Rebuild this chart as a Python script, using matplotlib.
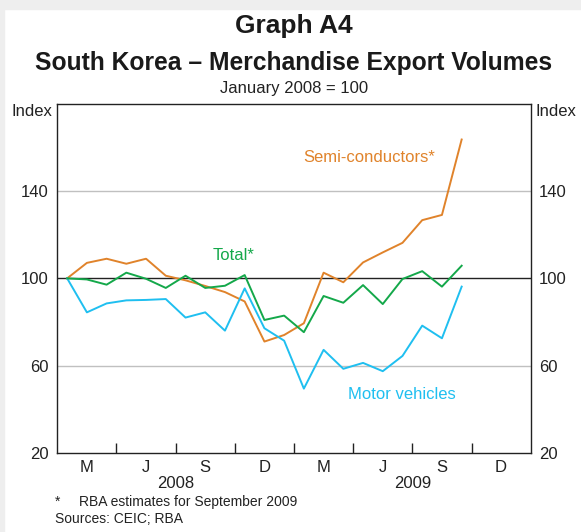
import matplotlib
matplotlib.use("Agg")
import matplotlib.pyplot as plt
from matplotlib.patches import Rectangle

plt.rcParams['font.family'] = ['Liberation Sans', 'DejaVu Sans']

months = list(range(21))  # Jan 2008 .. Sep 2009
semi = [100, 107.1, 109.0, 106.7, 109.0, 101.2, 99.1, 96.5, 93.7, 89.4, 71.0, 74.0,
        79.4, 102.6, 98.2, 107.3, 111.9, 116.3, 126.7, 129.1, 163.7]
total = [100, 99.5, 97.1, 102.6, 99.8, 95.6, 101.2, 95.6, 96.6, 101.5, 80.9, 82.9,
         75.3, 91.9, 88.8, 96.9, 88.2, 99.7, 103.3, 96.2, 105.8]
motor = [100, 84.4, 88.5, 89.9, 90.1, 90.5, 82.0, 84.4, 76.0, 95.4, 77.1, 71.4,
         49.4, 67.2, 58.5, 61.2, 57.4, 64.4, 78.3, 72.5, 96.2]
quarter_labels = ['M', 'J', 'S', 'D', 'M', 'J', 'S', 'D']
year_labels = ['2008', '2009']
yticks = [20, 60, 100, 140]

c_semi = '#E0832B'
c_total = '#14A84A'
c_motor = '#1FBFF0'

fig = plt.figure(figsize=(5.81, 5.32), dpi=100)
# light grey border strips at top and left
fig.patches.append(Rectangle((0, 1 - 9/532), 1, 9/532, transform=fig.transFigure,
                             color='#EEEEEE', zorder=-10))
fig.patches.append(Rectangle((0, 0), 4/581, 1, transform=fig.transFigure,
                             color='#EEEEEE', zorder=-10))

ax = fig.add_axes([57.3/581, 1 - 452.7/532, (530.7 - 57.3)/581, (452.7 - 104)/532])
ax.set_xlim(-0.5, 23.5)
ax.set_ylim(20, 180)

for y in [60, 140]:
    ax.axhline(y, color='#C0C0C0', lw=1.0, zorder=1)
ax.axhline(100, color='#222222', lw=1.0, zorder=1)

ax.plot(months, semi, color=c_semi, lw=1.4, zorder=3)
ax.plot(months, total, color=c_total, lw=1.4, zorder=4)
ax.plot(months, motor, color=c_motor, lw=1.4, zorder=3)

for s in ax.spines.values():
    s.set_color('#222222')
    s.set_linewidth(1.0)

ax.set_yticks(yticks)
ax.set_yticklabels([str(v) for v in yticks], fontsize=12, color='#222222')
ax.tick_params(axis='y', length=0, pad=6, labelright=True, right=False)

ax.set_xticks([2.5 + 3*i for i in range(7)])
ax.set_xticklabels([])
ax.tick_params(axis='x', direction='in', length=7, width=1.0, color='#222222')
ax.set_xticks([1 + 3*i for i in range(8)], minor=True)
ax.set_xticklabels(quarter_labels, minor=True, fontsize=12, color='#222222')
ax.tick_params(axis='x', which='minor', length=0, pad=5)

for i, yl in enumerate(year_labels):
    ax.text(5.5 + 12*i, -0.088, yl, transform=ax.get_xaxis_transform(),
            ha='center', va='center', fontsize=12, color='#222222')

ax.text(-0.01, 1.0, 'Index', transform=ax.transAxes, ha='right', va='top',
        fontsize=12, color='#222222')
ax.text(1.01, 1.0, 'Index', transform=ax.transAxes, ha='left', va='top',
        fontsize=12, color='#222222')

ax.text(11.96, 155.6, 'Semi-conductors*', color=c_semi, fontsize=12, ha='left', va='center')
ax.text(7.39, 110.7, 'Total*', color=c_total, fontsize=12, ha='left', va='center')
ax.text(14.24, 46.5, 'Motor vehicles', color=c_motor, fontsize=12, ha='left', va='center')

fig.text(294/581, 1 - 26/532, 'Graph A4', ha='center', va='center', fontsize=19,
         fontweight='bold', color='#1A1A1A')
fig.text(294/581, 1 - 63/532, 'South Korea \u2013 Merchandise Export Volumes', ha='center',
         va='center', fontsize=17.7, fontweight='bold', color='#1A1A1A')
fig.text(294/581, 1 - 88/532, 'January 2008 = 100', ha='center', va='center', fontsize=12,
         color='#222222')

fig.text(55/581, 1 - 502/532, '*', ha='left', va='center', fontsize=10, color='#222222')
fig.text(79/581, 1 - 502/532, 'RBA estimates for September 2009', ha='left', va='center',
         fontsize=10, color='#222222')
fig.text(55/581, 1 - 519/532, 'Sources: CEIC; RBA', ha='left', va='center', fontsize=10,
         color='#222222')

fig.savefig('out.png', dpi=100)
